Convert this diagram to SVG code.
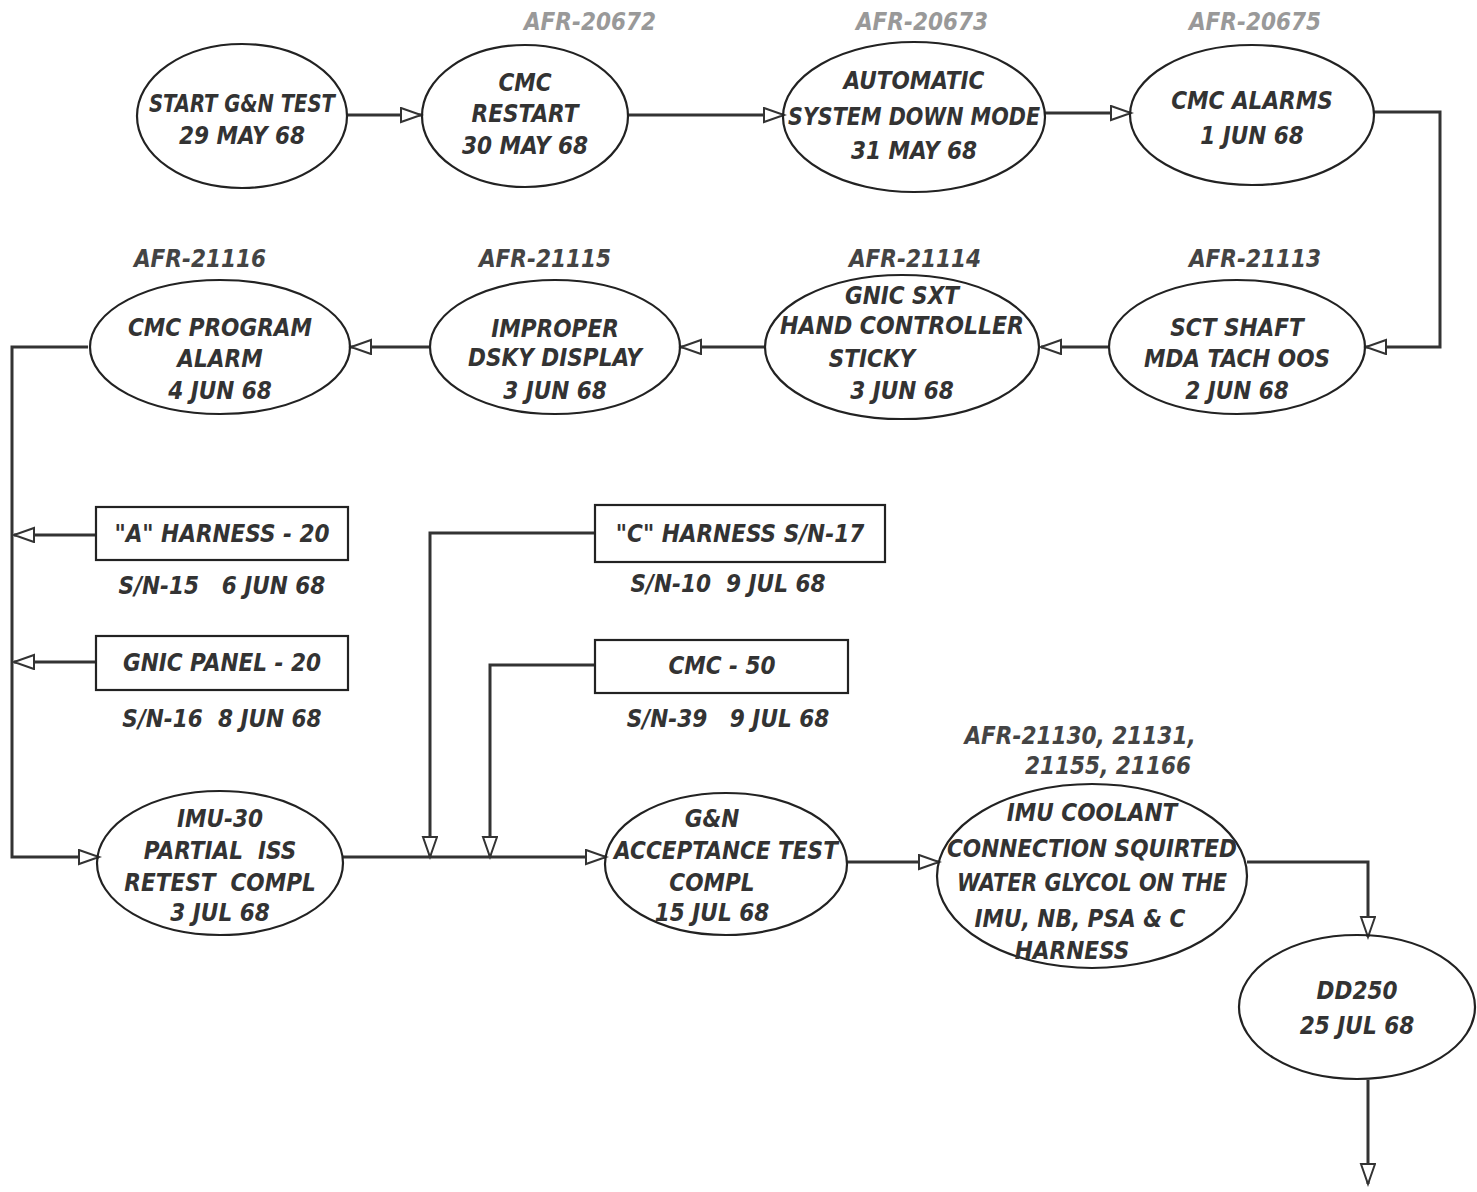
<svg xmlns="http://www.w3.org/2000/svg" width="1477" height="1192" viewBox="0 0 1477 1192">
<defs>
<marker id="arr" markerUnits="userSpaceOnUse" markerWidth="24" markerHeight="18" refX="21" refY="8" orient="auto">
<path d="M1,1 L21,8 L1,15 Z" fill="#fff" stroke="#333" stroke-width="2"/>
</marker>
</defs>
<style>
.n ellipse{fill:none;stroke:#222;stroke-width:2.2}
.n rect{fill:none;stroke:#222;stroke-width:2.2}
.t{font-family:"Liberation Sans Narrow","DejaVu Sans Condensed","Liberation Sans",sans-serif;font-style:italic;font-weight:bold;font-size:24px;fill:#333;text-anchor:middle;white-space:pre}
.l{font-family:"Liberation Sans Narrow","DejaVu Sans Condensed","Liberation Sans",sans-serif;font-style:italic;font-weight:bold;font-size:24px;fill:#444;text-anchor:middle}
.f{fill:#999}
.c path{fill:none;stroke:#333;stroke-width:3;marker-end:url(#arr)}
</style>
<rect width="1477" height="1192" fill="#fff"/>
<g class="c" id="connectors">
<path d="M347,115 H421"/>
<path d="M628,115 H784"/>
<path d="M1045,113 H1131"/>
<path d="M1373,112 H1440 V347 H1366"/>
<path d="M1108,347 H1041"/>
<path d="M765,347 H681"/>
<path d="M430,347 H351"/>
<path d="M88,347 H12 V857 H99"/>
<path d="M96,535 H14"/>
<path d="M96,662 H14"/>
<path d="M595,533 H430 V857"/>
<path d="M595,665 H490 V857"/>
<path d="M343,857 H606"/>
<path d="M847,862 H939"/>
<path d="M1247,862 H1368 V937"/>
<path d="M1368,1080 V1184"/>
</g>
<g class="n" id="n1"><ellipse cx="242" cy="116" rx="105" ry="72"/>
<text class="t" x="242" y="112" textLength="186" lengthAdjust="spacingAndGlyphs">START G&amp;N TEST</text><text class="t" x="242" y="144">29 MAY 68</text></g>
<g class="n" id="n2"><text class="l f" x="590" y="30">AFR-20672</text><ellipse cx="525" cy="116" rx="103" ry="71"/>
<text class="t" x="525" y="91">CMC</text><text class="t" x="525" y="122">RESTART</text><text class="t" x="525" y="154">30 MAY 68</text></g>
<g class="n" id="n3"><text class="l f" x="922" y="30">AFR-20673</text><ellipse cx="914" cy="117" rx="131" ry="75"/>
<text class="t" x="914" y="89">AUTOMATIC</text><text class="t" x="914" y="125" textLength="252" lengthAdjust="spacingAndGlyphs">SYSTEM DOWN MODE</text><text class="t" x="914" y="159">31 MAY 68</text></g>
<g class="n" id="n4"><text class="l f" x="1255" y="30">AFR-20675</text><ellipse cx="1252" cy="115" rx="122" ry="70"/>
<text class="t" x="1252" y="109">CMC ALARMS</text><text class="t" x="1252" y="144">1 JUN 68</text></g>
<g class="n" id="n5"><text class="l" x="1255" y="267">AFR-21113</text><ellipse cx="1237" cy="347" rx="128" ry="67"/>
<text class="t" x="1237" y="336">SCT SHAFT</text><text class="t" x="1237" y="367">MDA TACH OOS</text><text class="t" x="1237" y="399">2 JUN 68</text></g>
<g class="n" id="n6"><text class="l" x="915" y="267">AFR-21114</text><ellipse cx="902" cy="347" rx="137" ry="72"/>
<text class="t" x="902" y="304">GNIC SXT</text><text class="t" x="902" y="334" textLength="244" lengthAdjust="spacingAndGlyphs">HAND CONTROLLER</text><text class="t" x="872" y="367">STICKY</text><text class="t" x="902" y="399">3 JUN 68</text></g>
<g class="n" id="n7"><text class="l" x="545" y="267">AFR-21115</text><ellipse cx="555" cy="347" rx="125" ry="67"/>
<text class="t" x="555" y="337">IMPROPER</text><text class="t" x="555" y="366">DSKY DISPLAY</text><text class="t" x="555" y="399">3 JUN 68</text></g>
<g class="n" id="n8"><text class="l" x="200" y="267">AFR-21116</text><ellipse cx="220" cy="347" rx="130" ry="67"/>
<text class="t" x="220" y="336">CMC PROGRAM</text><text class="t" x="220" y="367">ALARM</text><text class="t" x="220" y="399">4 JUN 68</text></g>
<g class="n" id="n9"><rect x="96" y="507" width="252" height="53"/>
<text class="t" x="222" y="542">"A" HARNESS - 20</text><text class="t" x="222" y="594" xml:space="preserve">S/N-15   6 JUN 68</text></g>
<g class="n" id="n10"><rect x="96" y="636" width="252" height="54"/>
<text class="t" x="222" y="671">GNIC PANEL - 20</text><text class="t" x="222" y="727" xml:space="preserve">S/N-16  8 JUN 68</text></g>
<g class="n" id="n11"><rect x="595" y="505" width="290" height="57"/>
<text class="t" x="740" y="542">"C" HARNESS S/N-17</text><text class="t" x="728" y="592" xml:space="preserve">S/N-10  9 JUL 68</text></g>
<g class="n" id="n12"><rect x="595" y="640" width="253" height="53"/>
<text class="t" x="722" y="674">CMC - 50</text><text class="t" x="728" y="727" xml:space="preserve">S/N-39   9 JUL 68</text></g>
<g class="n" id="n13"><ellipse cx="220" cy="863" rx="123" ry="72"/>
<text class="t" x="220" y="827">IMU-30</text><text class="t" x="220" y="859" xml:space="preserve">PARTIAL  ISS</text><text class="t" x="220" y="891" xml:space="preserve">RETEST  COMPL</text><text class="t" x="220" y="921">3 JUL 68</text></g>
<g class="n" id="n14"><ellipse cx="726" cy="864" rx="121" ry="71"/>
<text class="t" x="712" y="827">G&amp;N</text><text class="t" x="726" y="859">ACCEPTANCE TEST</text><text class="t" x="712" y="891">COMPL</text><text class="t" x="712" y="921">15 JUL 68</text></g>
<g class="n" id="n15"><text class="l" x="1080" y="744">AFR-21130, 21131,</text><text class="l" x="1108" y="774">21155, 21166</text><ellipse cx="1092" cy="876" rx="155" ry="92"/>
<text class="t" x="1092" y="821">IMU COOLANT</text><text class="t" x="1092" y="857" textLength="290" lengthAdjust="spacingAndGlyphs">CONNECTION SQUIRTED</text><text class="t" x="1092" y="891" textLength="270" lengthAdjust="spacingAndGlyphs">WATER GLYCOL ON THE</text><text class="t" x="1080" y="927">IMU, NB, PSA &amp; C</text><text class="t" x="1072" y="959">HARNESS</text></g>
<g class="n" id="n16"><ellipse cx="1357" cy="1007" rx="118" ry="72"/>
<text class="t" x="1357" y="999">DD250</text><text class="t" x="1357" y="1034">25 JUL 68</text></g>
</svg>
